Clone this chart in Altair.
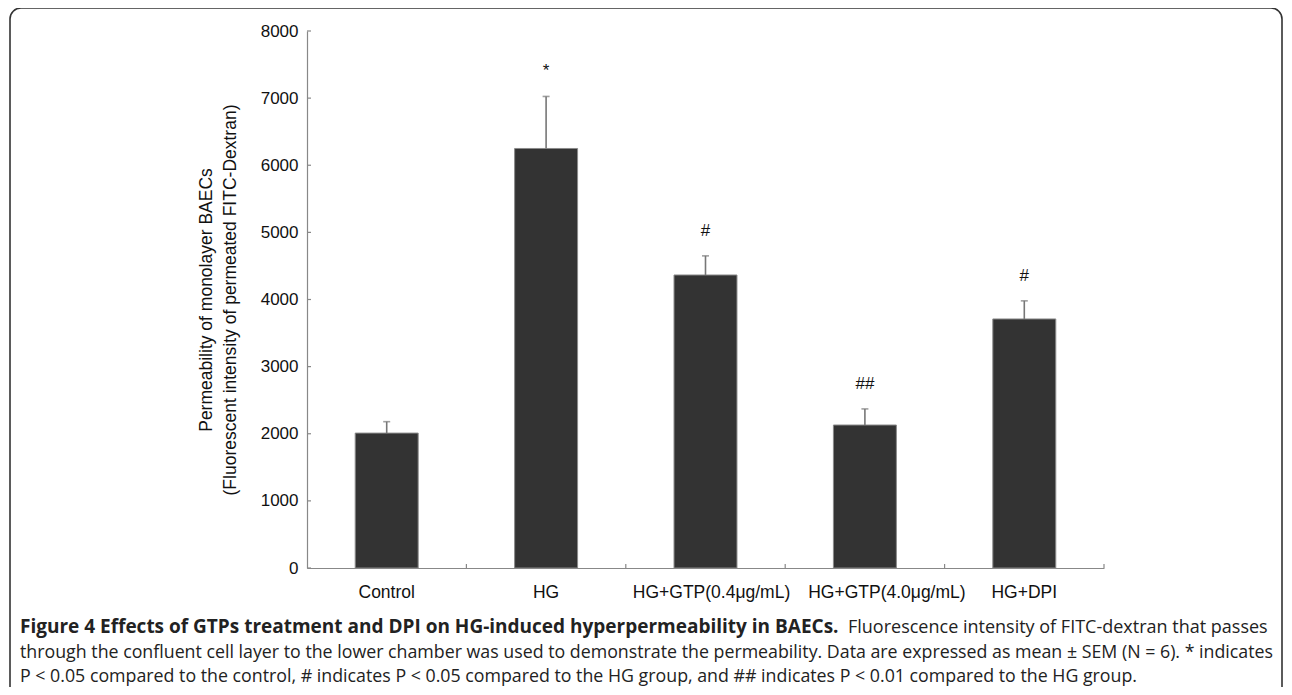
import altair as alt
import pandas as pd

groups = ["Control", "HG", "HG+GTP(0.4μg/mL)", "HG+GTP(4.0μg/mL)", "HG+DPI"]
means = [2010, 6250, 4365, 2130, 3710]
sems = [170, 775, 285, 240, 270]
signif = ["", "*", "#", "##", "#"]
y_ticks = [0, 1000, 2000, 3000, 4000, 5000, 6000, 7000, 8000]

y_title = ["Permeability of monolayer BAECs",
           "(Fluorescent intensity of permeated FITC-Dextran)"]
cap_bold = "Figure 4 Effects of GTPs treatment and DPI on HG-induced hyperpermeability in BAECs."
cap_line1 = "Fluorescence intensity of FITC-dextran that passes"
cap_line2 = ("through the confluent cell layer to the lower chamber was used to demonstrate "
             "the permeability. Data are expressed as mean ± SEM (N = 6). * indicates")
cap_line3 = ("P < 0.05 compared to the control, # indicates P < 0.05 compared to the HG group, "
             "and ## indicates P < 0.01 compared to the HG group.")

df = pd.DataFrame({"group": groups, "mean": means, "sem": sems, "sig": signif})
df["top"] = df["mean"] + df["sem"]
ticks_df = pd.DataFrame({"v": y_ticks})

W, H = 797, 537
FONT = "Liberation Sans"
CAPFONT = "Open Sans"

label_shift = {
    "condition": [
        {"test": "datum.value === 'HG+GTP(0.4μg/mL)'", "value": 6},
        {"test": "datum.value === 'HG+GTP(4.0μg/mL)'", "value": 22},
    ],
    "value": 0,
}

xenc = alt.X("group:N", sort=groups, title=None,
             scale=alt.Scale(paddingInner=0, paddingOuter=0),
             axis=alt.Axis(labelAngle=0, ticks=False, labelPadding=15,
                           labelOffset=label_shift,
                           labelFontSize=17.5, labelFont=FONT, labelColor="#111",
                           domainColor="#888", domainWidth=1.2))
yenc = alt.Y("mean:Q", scale=alt.Scale(domain=[0, 8000], nice=False),
             title=y_title,
             axis=alt.Axis(values=y_ticks, format="d", ticks=False, labelPadding=9,
                           grid=False, labelFontSize=17, labelFont=FONT,
                           labelColor="#111", domainColor="#888", domainWidth=1.2,
                           titleFont=FONT, titleFontSize=17.5, titleFontWeight="normal",
                           titleColor="#111", titleLineHeight=24,
                           titleX=-92, titleY=H / 2))

base = alt.Chart(df)

bars = base.mark_bar(color="#333333", stroke="#8a8a8a", strokeWidth=1,
                     width=alt.RelativeBandSize(0.395)).encode(x=xenc, y=yenc)

err = base.mark_rule(color="#777777", strokeWidth=1.6).encode(
    x=alt.X("group:N", sort=groups), y="mean:Q", y2="top:Q")
cap = base.mark_tick(color="#777777", thickness=1.6, size=7).encode(
    x=alt.X("group:N", sort=groups), y="top:Q")
sig = base.mark_text(font=FONT, fontSize=17, color="#111", baseline="alphabetic",
                     dy=-20).encode(
    x=alt.X("group:N", sort=groups), y="top:Q", text="sig:N")

yt = alt.Chart(ticks_df).mark_rule(color="#888", strokeWidth=1.2).encode(
    y="v:Q", x=alt.value(0), x2=alt.value(4))
xt = base.mark_rule(color="#888", strokeWidth=1.2).encode(
    x=alt.X("group:N", sort=groups, bandPosition=1),
    y=alt.value(H), y2=alt.value(H - 4))

def txt(s, x, y, weight="normal", size=17.8):
    return alt.Chart(pd.DataFrame({"t": [s]})).mark_text(
        font=CAPFONT, fontSize=size, fontWeight=weight, align="left",
        baseline="alphabetic", color="#222").encode(
        x=alt.value(x), y=alt.value(y), text="t:N")

c0 = txt(cap_bold, -287, 602, "bold", 19)
c1 = txt(cap_line1, 541, 602, size=18)
c2 = txt(cap_line2, -287, 627)
c3 = txt(cap_line3, -287, 651)

border = alt.Chart(pd.DataFrame({"a": [0]})).mark_rect(
    filled=False, stroke="#333", strokeWidth=1.6, cornerRadius=11).encode(
    x=alt.value(-297), x2=alt.value(975), y=alt.value(-23), y2=alt.value(672))

chart = alt.layer(border, bars, err, cap, sig, yt, xt, c0, c1, c2, c3).properties(
    width=W, height=H,
    padding={"left": 299, "top": 23, "right": 180, "bottom": 119},
    autosize=alt.AutoSizeParams(type="none"),
).configure_view(stroke=None)

chart.save("out.html", embed_options={"renderer": "svg", "actions": False})
